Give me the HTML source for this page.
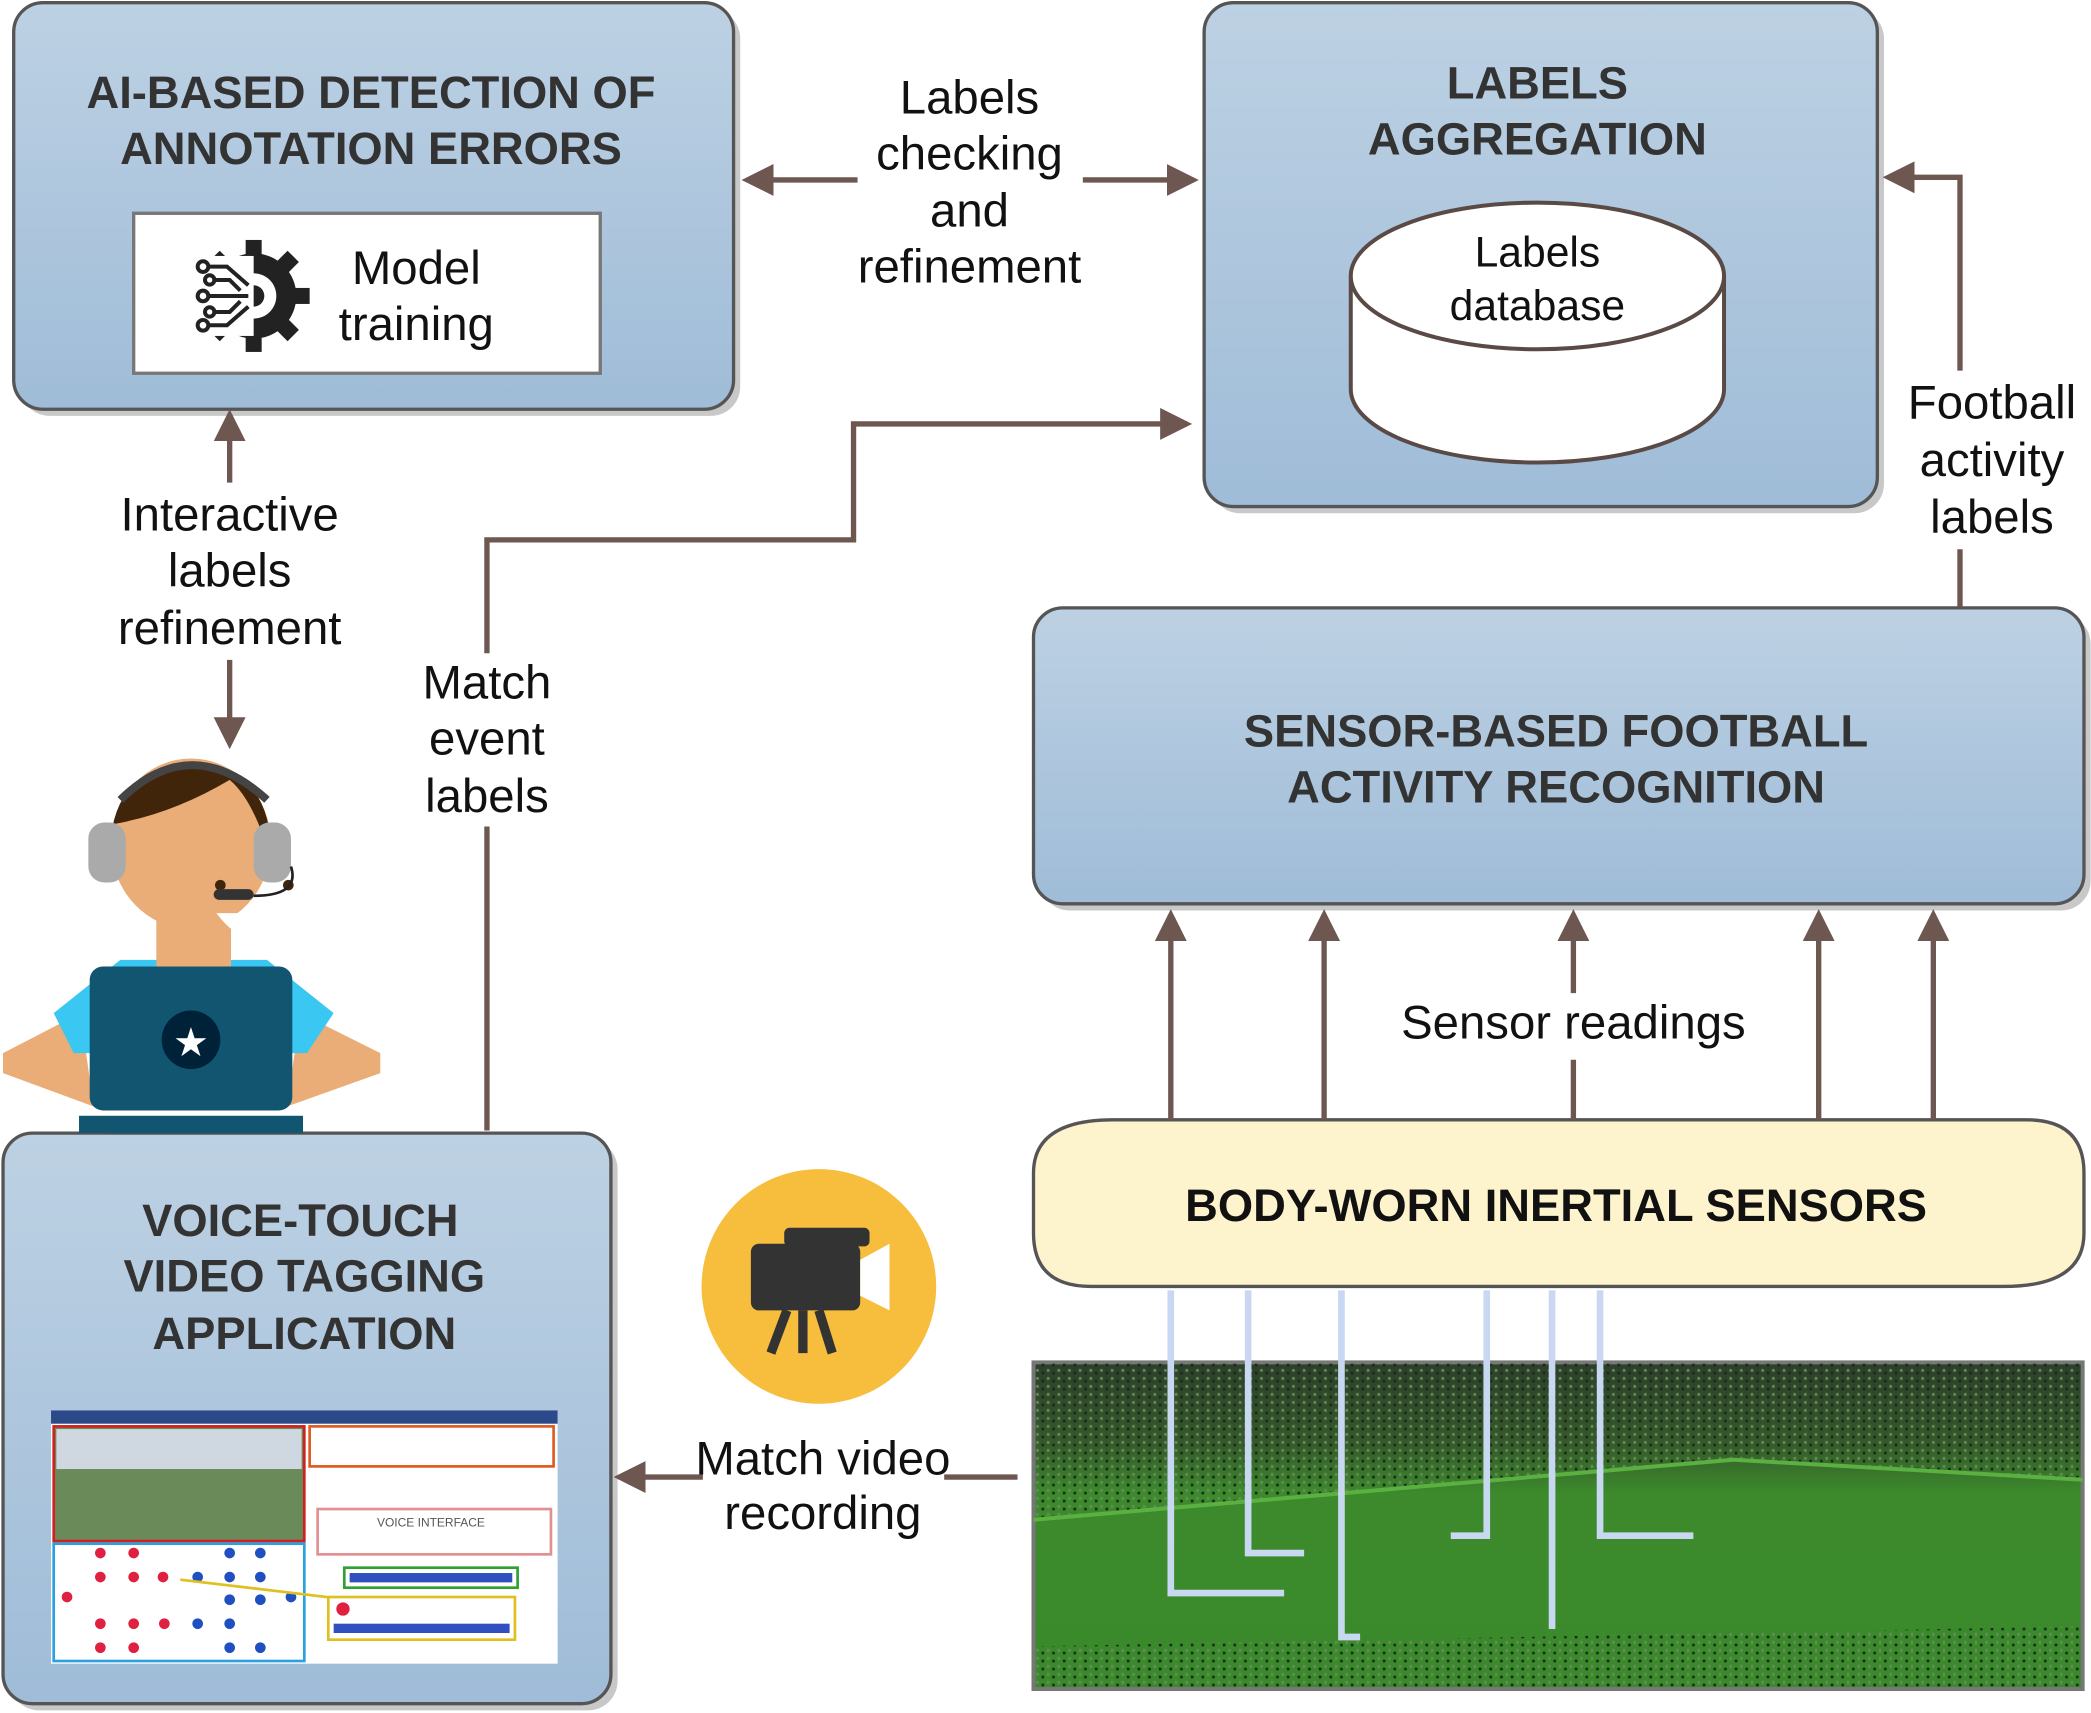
<!DOCTYPE html>
<html><head><meta charset="utf-8"><style>
html,body{margin:0;padding:0;background:#fff;}
svg{display:block}
text{font-family:"Liberation Sans",Arial,sans-serif;}
.t{font-size:34px;font-weight:bold;fill:#333;text-anchor:middle}
.l{font-size:35.5px;fill:#111;text-anchor:middle}
.a{stroke:#6d5750;stroke-width:4;fill:none}
</style></head><body>
<svg width="2091" height="1713" viewBox="0 0 1568 1285" xmlns="http://www.w3.org/2000/svg">
<defs>
<linearGradient id="g" x1="0" y1="0" x2="0" y2="1"><stop offset="0" stop-color="#bdd1e3"/><stop offset="1" stop-color="#9fbcd8"/></linearGradient>
<linearGradient id="fld" x1="0" y1="0" x2="0" y2="1"><stop offset="0" stop-color="#2c3f2a"/><stop offset="0.25" stop-color="#355a2a"/><stop offset="0.4" stop-color="#3c8a2c"/><stop offset="1" stop-color="#3a8a2c"/></linearGradient>
<pattern id="crowd" width="8" height="6" patternUnits="userSpaceOnUse"><rect width="8" height="6" fill="none"/><rect x="1" y="1" width="2" height="2" fill="#6a8a60"/><rect x="5" y="3" width="2" height="2" fill="#1a2a18"/></pattern>
<marker id="ar" markerWidth="6" markerHeight="6" refX="5" refY="3" orient="auto" markerUnits="strokeWidth"><path d="M0,0 L6,3 L0,6 z" fill="#6d5750"/></marker>
</defs>
<g fill="#c8c8c8">
<rect x="15" y="7" width="540" height="305" rx="22"/>
<rect x="908" y="7" width="505" height="378" rx="22"/>
<rect x="780" y="461" width="788" height="222" rx="22"/>
<rect x="7" y="855" width="456" height="428" rx="22"/>
</g>
<rect x="10" y="2" width="540" height="305" rx="22" fill="url(#g)" stroke="#555" stroke-width="2.5"/>
<text class="t" x="278" y="81">AI-BASED DETECTION OF</text>
<text class="t" x="278" y="123">ANNOTATION ERRORS</text>
<rect x="100" y="160" width="350" height="120" fill="#fff" stroke="#777" stroke-width="2.5"/>
<g transform="translate(190,222)">
<circle r="32" fill="#222"/>
<g fill="#222"><rect x="-6" y="-42" width="12" height="14"/><rect x="-6" y="28" width="12" height="14"/><rect x="28" y="-6" width="14" height="12"/>
<rect x="-6" y="-42" width="12" height="14" transform="rotate(45)"/><rect x="-6" y="-42" width="12" height="14" transform="rotate(135)"/><rect x="-6" y="-42" width="12" height="14" transform="rotate(-45)"/><rect x="-6" y="-42" width="12" height="14" transform="rotate(-135)"/></g>
<circle r="17" fill="#fff"/><circle r="8" fill="#222"/>
<rect x="-40" y="-30" width="40" height="60" fill="#fff"/>
<g stroke="#222" stroke-width="3" fill="#fff"><path d="M-4,0 H-34 M-4,-8 L-20,-22 H-34 M-4,8 L-20,22 H-34 M-10,-4 L-18,-12 H-30 M-10,4 L-18,12 H-30"/>
<circle cx="-38" cy="0" r="4"/><circle cx="-38" cy="-22" r="4"/><circle cx="-38" cy="22" r="4"/><circle cx="-33" cy="-12" r="3.5"/><circle cx="-33" cy="12" r="3.5"/></g>
</g>
<text class="l" x="312" y="213">Model</text>
<text class="l" x="312" y="255">training</text>
<rect x="903" y="2" width="505" height="378" rx="22" fill="url(#g)" stroke="#555" stroke-width="2.5"/>
<text class="t" x="1153" y="74">LABELS</text>
<text class="t" x="1153" y="116">AGGREGATION</text>
<path d="M1013,207 V292 A140,55 0 0 0 1293,292 V207" fill="#fff" stroke="#5a4a45" stroke-width="3"/>
<ellipse cx="1153" cy="207" rx="140" ry="55" fill="#fff" stroke="#5a4a45" stroke-width="3"/>
<text x="1153" y="200" style="font-size:32px;text-anchor:middle;fill:#111">Labels</text>
<text x="1153" y="240" style="font-size:32px;text-anchor:middle;fill:#111">database</text>
<rect x="775" y="456" width="788" height="222" rx="22" fill="url(#g)" stroke="#555" stroke-width="2.5"/>
<text class="t" x="1167" y="560">SENSOR-BASED FOOTBALL</text>
<text class="t" x="1167" y="602">ACTIVITY RECOGNITION</text>
<rect x="2" y="850" width="456" height="428" rx="22" fill="url(#g)" stroke="#555" stroke-width="2.5"/>
<text class="t" x="225" y="927">VOICE-TOUCH</text>
<text class="t" x="228" y="969">VIDEO TAGGING</text>
<text class="t" x="228" y="1012">APPLICATION</text>
<rect x="38" y="1058" width="380" height="190" fill="#fff"/>
<rect x="38" y="1058" width="380" height="10" fill="#2c4a8a"/>
<rect x="40" y="1070" width="188" height="86" fill="#6a8a5a" stroke="#d02020" stroke-width="2"/>
<rect x="42" y="1072" width="184" height="30" fill="#cfd8e0"/>
<rect x="40" y="1158" width="188" height="88" fill="#fff" stroke="#2aa0e0" stroke-width="2"/>
<rect x="232" y="1070" width="183" height="30" fill="#fff" stroke="#e05a20" stroke-width="2"/>
<rect x="238" y="1132" width="175" height="34" fill="#fff" stroke="#e09090" stroke-width="2"/>
<text x="323" y="1145" style="font-size:9px;text-anchor:middle;fill:#555">VOICE INTERFACE</text>
<rect x="258" y="1176" width="130" height="15" fill="#fff" stroke="#30a030" stroke-width="2"/>
<rect x="262" y="1180" width="122" height="7" fill="#3050c0"/>
<rect x="246" y="1198" width="140" height="32" fill="#fff" stroke="#e0c020" stroke-width="2"/>
<rect x="250" y="1218" width="132" height="7" fill="#3050c0"/>
<g fill="#e02040"><circle cx="75" cy="1165" r="4"/><circle cx="100" cy="1165" r="4"/><circle cx="50" cy="1198" r="4"/><circle cx="75" cy="1183" r="4"/><circle cx="100" cy="1183" r="4"/><circle cx="122" cy="1183" r="4"/><circle cx="75" cy="1218" r="4"/><circle cx="100" cy="1218" r="4"/><circle cx="123" cy="1218" r="4"/><circle cx="75" cy="1236" r="4"/><circle cx="100" cy="1236" r="4"/><circle cx="257" cy="1207" r="5"/></g>
<g fill="#2050c0"><circle cx="172" cy="1165" r="4"/><circle cx="195" cy="1165" r="4"/><circle cx="148" cy="1183" r="4"/><circle cx="172" cy="1183" r="4"/><circle cx="195" cy="1183" r="4"/><circle cx="218" cy="1198" r="4"/><circle cx="172" cy="1200" r="4"/><circle cx="195" cy="1200" r="4"/><circle cx="148" cy="1218" r="4"/><circle cx="172" cy="1218" r="4"/><circle cx="195" cy="1236" r="4"/><circle cx="172" cy="1236" r="4"/></g>
<path d="M245,1198 L135,1185" stroke="#e0c020" stroke-width="2"/>
<!-- person -->
<g>
<path d="M2,790 L60,760 L70,830 L2,805 Z" fill="#eaad78"/>
<path d="M285,790 L225,760 L215,830 L285,805 Z" fill="#eaad78"/>
<path d="M40,760 L90,720 H200 L250,760 L230,790 H55 Z" fill="#3ac7f2"/>
<rect x="117" y="680" width="56" height="50" fill="#eaad78"/>
<ellipse cx="143" cy="633" rx="60" ry="64" fill="#eaad78"/>
<path d="M82,648 Q80,575 143,572 Q205,575 203,645 Q190,600 172,585 Q130,610 86,618 Z" fill="#40250a"/>
<circle cx="165" cy="664" r="4" fill="#40250a"/><circle cx="216" cy="664" r="4" fill="#40250a"/>
<path d="M162,685 Q190,722 214,685 Z" fill="#fff"/>
<path d="M90,600 Q143,548 200,600" stroke="#444" stroke-width="6" fill="none"/>
<rect x="66" y="617" width="28" height="45" rx="12" fill="#aaa"/><rect x="190" y="617" width="28" height="45" rx="12" fill="#aaa"/>
<path d="M218,650 Q225,672 190,672" stroke="#222" stroke-width="2" fill="none"/>
<rect x="160" y="667" width="30" height="8" rx="4" fill="#333"/>
<rect x="79" y="838" width="148" height="12" fill="#0f5570"/>
<rect x="67" y="725" width="152" height="108" rx="10" fill="#115570"/>
<rect x="59" y="837" width="168" height="13" fill="#115570"/>
<circle cx="143" cy="780" r="22" fill="#002238"/>
<text x="143" y="792" style="font-size:30px;text-anchor:middle;fill:#fff">★</text>
</g>
<path d="M775,880 Q775,840 835,840 H1520 Q1563,840 1563,880 V925 Q1563,965 1503,965 H818 Q775,965 775,925 Z" fill="#fdf3cc" stroke="#555" stroke-width="2.5"/>
<text x="1167" y="916" style="font-size:34px;font-weight:bold;text-anchor:middle;fill:#111">BODY-WORN INERTIAL SENSORS</text>
<rect x="775" y="1022" width="787" height="245" fill="url(#fld)" stroke="#777" stroke-width="3"/>
<path d="M775,1022 H1562 V1110 L1300,1095 L775,1140 Z" fill="url(#crowd)"/>
<path d="M775,1235 L1562,1220 V1267 H775 Z" fill="url(#crowd)"/>
<path d="M775,1140 L1300,1095 L1562,1110" stroke="#5ab040" stroke-width="3" fill="none"/>
<g stroke="#c8d8f0" stroke-width="5" fill="none">
<path d="M878,968 V1195 H963"/><path d="M936,968 V1165 H978"/><path d="M1006,968 V1228 H1020"/><path d="M1115,968 V1152 H1088"/><path d="M1164,968 V1222"/><path d="M1200,968 V1152 H1270"/>
</g>
<circle cx="614" cy="965" r="88" fill="#f7bd3c"/>
<rect x="563" y="933" width="82" height="50" rx="6" fill="#333"/>
<path d="M645,945 L667,933 V983 L645,972 Z" fill="#fff"/>
<rect x="588" y="921" width="64" height="14" rx="4" fill="#333"/>
<path d="M590,983 L578,1015 M602,983 V1015 M614,983 L624,1015" stroke="#333" stroke-width="7"/>
<path class="a" d="M643,135 H560" marker-end="url(#ar)"/>
<path class="a" d="M812,135 H895" marker-end="url(#ar)"/>
<text class="l" x="727" y="85">Labels</text><text class="l" x="727" y="127">checking</text><text class="l" x="727" y="170">and</text><text class="l" x="727" y="212">refinement</text>
<path class="a" d="M365,490 V405 H640 V318 H890" marker-end="url(#ar)"/>
<path class="a" d="M365,620 V848"/>
<text class="l" x="365" y="524">Match</text><text class="l" x="365" y="566">event</text><text class="l" x="365" y="609">labels</text>
<path class="a" d="M172,362 V311" marker-end="url(#ar)"/>
<path class="a" d="M172,495 V558" marker-end="url(#ar)"/>
<text class="l" x="172" y="398">Interactive</text><text class="l" x="172" y="440">labels</text><text class="l" x="172" y="483">refinement</text>
<path class="a" d="M1470,455 V412"/>
<path class="a" d="M1470,278 V133 H1416" marker-end="url(#ar)"/>
<text class="l" x="1494" y="314">Football</text><text class="l" x="1494" y="357">activity</text><text class="l" x="1494" y="400">labels</text>
<path class="a" d="M878,840 V686" marker-end="url(#ar)"/>
<path class="a" d="M993,840 V686" marker-end="url(#ar)"/>
<path class="a" d="M1180,745 V686" marker-end="url(#ar)"/>
<path class="a" d="M1180,795 V840"/>
<path class="a" d="M1364,840 V686" marker-end="url(#ar)"/>
<path class="a" d="M1450,840 V686" marker-end="url(#ar)"/>
<text class="l" x="1180" y="779">Sensor readings</text>
<path class="a" d="M763,1108 H708"/>
<path class="a" d="M527,1108 H464" marker-end="url(#ar)"/>
<text class="l" x="617" y="1106">Match video</text><text class="l" x="617" y="1147">recording</text>
</svg>
</body></html>
